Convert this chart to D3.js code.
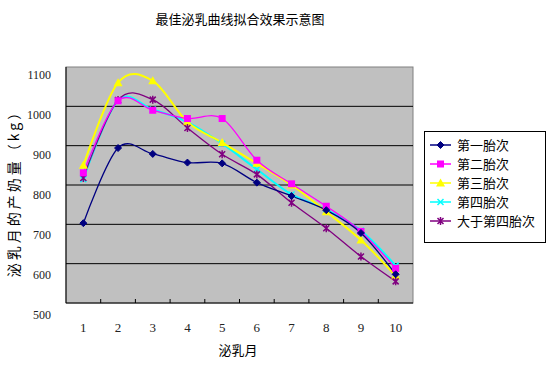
<!DOCTYPE html>
<html><head><meta charset="utf-8">
<script src="https://cdn.jsdelivr.net/npm/d3@7"></script>
<style>body{margin:0;background:#fff}svg{display:block}</style>
</head><body>
<script>
const months = [1,2,3,4,5,6,7,8,9,10];
const yTicks = [500,600,700,800,900,1000,1100];
const seriesNames = ["第一胎次","第二胎次","第三胎次","第四胎次","大于第四胎次"];
const s1 = [703, 894, 879, 857, 855, 806, 772, 736, 678, 573];
const s2 = [831, 1014, 990, 969, 969, 863, 803, 746, 682, 588];
const s3 = [850, 1060, 1065, 960, 908, 855, 800, 732, 660, 569];
const s4 = [815, 1015, 992, 960, 905, 840, 776, 738, 684, 595];
const s5 = [818, 1016, 1017, 945, 878, 827, 755, 690, 618, 555];
const colors = ["#000080","#FF00FF","#FFFF00","#00FFFF","#800080"];
const markers = ["diamond","square","triangle","x","star"];
const allSeries = [s1,s2,s3,s4,s5];

const W=553,H=366;
const svg=d3.select("body").append("svg").attr("width",W).attr("height",H);
const m={l:66,t:67,r:413,b:303};
const x=d3.scaleBand().domain(months).range([m.l,m.r]);
const y=d3.scaleLinear().domain([500,1100]).range([m.b,m.t]);
const yLab=d3.scaleLinear().domain([500,1100]).range([315,75]);
const cjk='"Noto Sans CJK SC", sans-serif';
const num='"Liberation Serif", serif';

svg.append("text").attr("x",240).attr("y",24).attr("text-anchor","middle")
  .style("font-family",cjk).style("font-size","13px").text("最佳泌乳曲线拟合效果示意图");

svg.append("rect").attr("x",m.l).attr("y",m.t).attr("width",m.r-m.l).attr("height",m.b-m.t)
  .attr("fill","#C0C0C0").attr("stroke","#808080").attr("stroke-width",1);

const g=svg.append("g");
yTicks.filter(v=>v>500&&v<1100).forEach(v=>{
  g.append("line").attr("x1",m.l).attr("x2",m.r).attr("y1",y(v)).attr("y2",y(v)).attr("stroke","#000").attr("stroke-width",1);
});
g.append("line").attr("x1",m.l).attr("x2",m.l).attr("y1",m.t).attr("y2",m.b).attr("stroke","#000");
g.append("line").attr("x1",m.l).attr("x2",m.r).attr("y1",m.b).attr("y2",m.b).attr("stroke","#000");
months.forEach((d,i)=>{
  if(i>0){const xx=x(d);g.append("line").attr("x1",xx).attr("x2",xx).attr("y1",m.b-4).attr("y2",m.b).attr("stroke","#000");}
  svg.append("text").attr("x",x(d)+x.bandwidth()/2).attr("y",332).attr("text-anchor","middle")
    .style("font-family",num).style("font-size","13px").attr("fill","#222").text(d);
});
yTicks.forEach(v=>{
  svg.append("text").attr("x",51).attr("y",yLab(v)+4).attr("text-anchor","end")
    .style("font-family",num).style("font-size","12px").attr("fill","#222").text(v);
});
svg.append("text").attr("x",238).attr("y",355).attr("text-anchor","middle")
  .style("font-family",cjk).style("font-size","13px").text("泌乳月");
svg.append("text").attr("transform","translate(19,190) rotate(-90)").attr("text-anchor","middle")
  .style("font-family",cjk).style("font-size","14px").style("letter-spacing","3px").text("泌乳月的产奶量（kg）");

function drawMarker(sel,type,cx,cy,color){
  const s=3.5;
  if(type==="diamond") sel.append("path").attr("d",`M${cx},${cy-s}L${cx+s},${cy}L${cx},${cy+s}L${cx-s},${cy}Z`).attr("fill",color).attr("stroke",color);
  else if(type==="square") sel.append("rect").attr("x",cx-3.5).attr("y",cy-3.5).attr("width",7).attr("height",7).attr("fill",color);
  else if(type==="triangle") sel.append("path").attr("d",`M${cx},${cy-4.5}L${cx+4.5},${cy+3.5}L${cx-4.5},${cy+3.5}Z`).attr("fill",color);
  else if(type==="x") sel.append("path").attr("d",`M${cx-3},${cy-3}L${cx+3},${cy+3}M${cx-3},${cy+3}L${cx+3},${cy-3}`).attr("stroke",color).attr("stroke-width",1.5);
  else sel.append("path").attr("d",`M${cx-3},${cy-3}L${cx+3},${cy+3}M${cx-3},${cy+3}L${cx+3},${cy-3}M${cx},${cy-4}L${cx},${cy+4}`).attr("stroke",color).attr("stroke-width",1.5);
}

const line=d3.line().x((d,i)=>x(months[i])+x.bandwidth()/2).y(d=>y(d)).curve(d3.curveCatmullRom.alpha(0));
const order=[3,2,4,1,0];
order.forEach(k=>{
  svg.append("path").datum(allSeries[k]).attr("d",line).attr("fill","none").attr("stroke",colors[k]).attr("stroke-width",k===3||k===2?2:1.3);
});
order.forEach(k=>{
  const gg=svg.append("g");
  allSeries[k].forEach((v,i)=>drawMarker(gg,markers[k],x(months[i])+x.bandwidth()/2,y(v),colors[k]));
});

const lg=svg.append("g");
lg.append("rect").attr("x",424.5).attr("y",131.5).attr("width",121).attr("height",111).attr("fill","#fff").attr("stroke","#000");
seriesNames.forEach((n,i)=>{
  const yy=145+i*19;
  lg.append("line").attr("x1",430).attr("x2",451).attr("y1",yy).attr("y2",yy).attr("stroke",colors[i]).attr("stroke-width",1.5);
  drawMarker(lg,markers[i],440.5,yy,colors[i]);
  lg.append("text").attr("x",457).attr("y",yy+5).style("font-family",cjk).style("font-size","13px").text(n);
});
</script>
</body></html>
